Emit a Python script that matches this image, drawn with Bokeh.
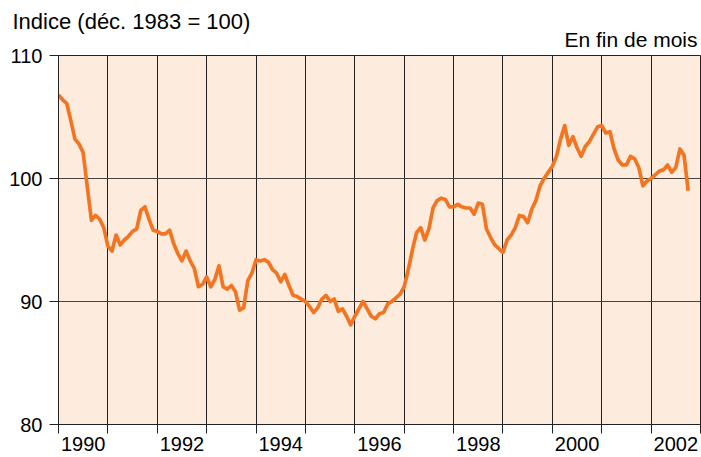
from bokeh.plotting import figure
from bokeh.models import FixedTicker, Range1d, ColumnDataSource, Title, CustomJSTickFormatter
from bokeh.embed import file_html
from bokeh.resources import INLINE

# Monthly index values (déc. 1983 = 100), end of month
v1990 = [106.8, 106.4, 106.1, 104.7, 103.2, 102.8, 102.1, 99.3, 96.6, 97.0, 96.7, 96.0]
v1991 = [94.5, 94.1, 95.4, 94.6, 95.0, 95.3, 95.7, 95.9, 97.4, 97.7, 96.7, 95.8]
v1992 = [95.7, 95.5, 95.5, 95.8, 94.7, 93.9, 93.3, 94.1, 93.3, 92.7, 91.2, 91.4]
v1993 = [92.0, 91.2, 91.8, 92.9, 91.2, 91.0, 91.3, 90.8, 89.3, 89.5, 91.7, 92.3]
v1994 = [93.4, 93.3, 93.4, 93.2, 92.6, 92.3, 91.6, 92.2, 91.3, 90.5, 90.4, 90.2]
v1995 = [90.0, 89.6, 89.1, 89.5, 90.2, 90.5, 90.0, 90.2, 89.2, 89.4, 88.8, 88.1]
v1996 = [88.8, 89.4, 90.0, 89.4, 88.8, 88.6, 89.0, 89.1, 89.8, 90.0, 90.3, 90.6]
v1997 = [91.2, 92.6, 94.2, 95.6, 96.0, 95.0, 95.9, 97.6, 98.2, 98.4, 98.3, 97.7]
v1998 = [97.7, 97.9, 97.7, 97.6, 97.6, 97.1, 98.0, 97.9, 95.9, 95.2, 94.6, 94.3]
v1999 = [94.0, 95.0, 95.4, 96.0, 97.0, 96.9, 96.4, 97.5, 98.2, 99.4, 100.0, 100.5]
v2000 = [101.0, 101.8, 103.2, 104.3, 102.7, 103.4, 102.5, 101.8, 102.6, 103.0, 103.6, 104.2]
v2001 = [104.3, 103.7, 103.8, 102.4, 101.5, 101.1, 101.1, 101.8, 101.6, 100.9, 99.4, 99.8]
v2002 = [100.0, 100.3, 100.6, 100.7, 101.1, 100.5, 100.9, 102.4, 101.9, 99.0]

start_year = 1990
end_year = 2003
label_years = [1990, 1992, 1994, 1996, 1998, 2000, 2002]
y_ticks = [80, 90, 100, 110]
title_text = "Indice (déc. 1983 = 100)"
note_text = "En fin de mois"

values = v1990 + v1991 + v1992 + v1993 + v1994 + v1995 + v1996 + v1997 + v1998 + v1999 + v2000 + v2001 + v2002
months = [start_year + i / 12 for i in range(len(values))]
src = ColumnDataSource(dict(t=months, v=values))

FONT = "Liberation Sans"
ORANGE = "#F37521"
DARK = "#222222"

p = figure(width=701, height=457, x_range=Range1d(start_year, end_year), y_range=Range1d(80, 110),
           output_backend="svg", toolbar_location=None,
           min_border_left=58, min_border_right=1, min_border_top=55, min_border_bottom=33)
p.background_fill_color = "#FDEBDD"
p.border_fill_color = "white"
p.outline_line_color = DARK
p.outline_line_width = 1

p.line("t", "v", source=src, line_color=ORANGE, line_width=3.7, line_join="round")

# x axis: year-boundary ticks (minor), labels centred in each labelled year (major, no tick)
xa = p.xaxis[0]
xa.ticker = FixedTicker(ticks=[y + 0.5 for y in label_years],
                        minor_ticks=list(range(start_year, end_year + 1)))
xa.formatter = CustomJSTickFormatter(code="return Math.floor(tick).toString()")
xa.major_tick_out = 0
xa.major_tick_in = 0
xa.minor_tick_out = 9
xa.minor_tick_in = 0
xa.minor_tick_line_color = DARK
xa.axis_line_color = DARK
xa.major_label_standoff = 3
xa.major_label_text_font = FONT
xa.major_label_text_font_size = "20px"
xa.major_label_text_color = "black"

ya = p.yaxis[0]
ya.ticker = FixedTicker(ticks=y_ticks, minor_ticks=[])
ya.major_tick_out = 9
ya.major_tick_in = 0
ya.major_tick_line_color = DARK
ya.axis_line_color = DARK
ya.major_label_standoff = 7
ya.major_label_text_font = FONT
ya.major_label_text_font_size = "20px"
ya.major_label_text_color = "black"

p.xgrid.ticker = FixedTicker(ticks=list(range(start_year + 1, end_year)))
p.xgrid.grid_line_color = DARK
p.xgrid.grid_line_width = 1
p.ygrid.ticker = FixedTicker(ticks=[90, 100])
p.ygrid.grid_line_color = "#444444"
p.ygrid.grid_line_width = 1

note = Title(text=note_text, align="right", offset=3, standoff=10,
             text_font=FONT, text_font_size="21px", text_font_style="normal", text_color="black")
head = Title(text=title_text, align="left", offset=-46, standoff=-26, vertical_align="bottom",
             text_font=FONT, text_font_size="22px", text_font_style="normal", text_color="black")
p.add_layout(note, "above")
p.add_layout(head, "above")

open("out.html", "w").write(file_html(p, INLINE))
